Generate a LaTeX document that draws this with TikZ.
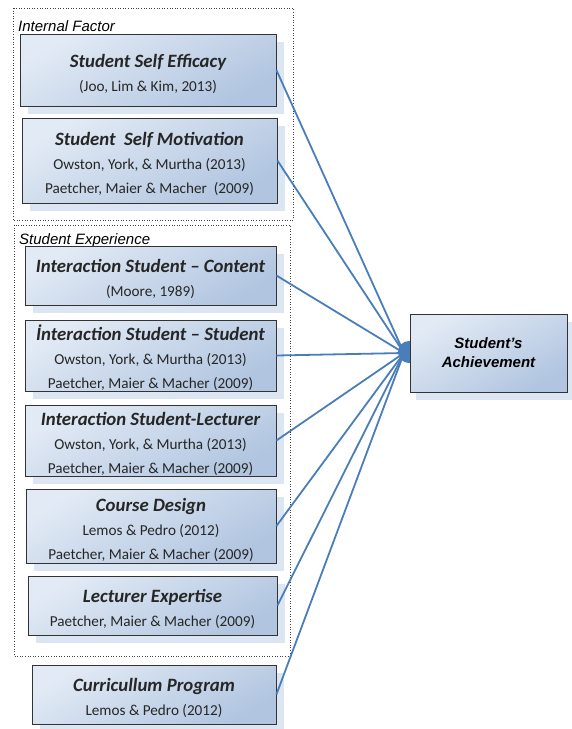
\documentclass[tikz,border=0pt]{standalone}
\usepackage{fontspec}
\setmainfont{Liberation Sans}
\newfontfamily\carlito{Carlito}
\usetikzlibrary{shadows}
\definecolor{lineblue}{HTML}{4A7EBB}
\definecolor{boxtop}{HTML}{E2EAF5}
\definecolor{boxbot}{HTML}{B1C5E0}
\definecolor{shadowblue}{HTML}{DCE6F2}
\definecolor{txt}{HTML}{262626}
\newcommand{\bxtitle}{\fontsize{18.8}{24}\selectfont\bfseries\itshape\rule{0pt}{20.5pt}}
\newcommand{\bxref}{\fontsize{15.2}{24}\selectfont\mdseries\upshape}
\begin{document}
\begin{tikzpicture}[x=1pt,y=-1pt,
  factor/.style={draw=black!80, line width=0.8pt, top color=boxtop, bottom color=boxbot,
    shading angle=30, align=center, inner sep=0pt, text=txt,
    font=\carlito\fontsize{15.2}{24}\selectfont,
    drop shadow={shadow xshift=8pt, shadow yshift=-8pt, fill=shadowblue, opacity=1}},
  group/.style={draw=black!75, dotted, line width=0.6pt},
  grouplabel/.style={anchor=base west, font=\fontsize{15}{15}\selectfont\itshape, inner sep=0pt},
  link/.style={draw=lineblue, line width=1.8pt}]
\useasboundingbox (0,0) rectangle (571,729);

% groups
\draw[group] (13,8) rectangle (293,220);
\node[grouplabel] (lint) at (18,31) {Internal Factor};
\draw[group] (14,225) rectangle (290,656);
\node[grouplabel] (lexp) at (19,244) {Student Experience};

% factor boxes
\node[factor, minimum width=256pt, minimum height=72pt] (b1) at (148,70)
  {\bxtitle Student Self Efficacy\\ \bxref (Joo, Lim \& Kim, 2013)};
\node[factor, minimum width=255pt, minimum height=85pt] (b2) at (149.5,160.5)
  {\bxtitle Student\ \ Self Motivation\\ \bxref Owston, York, \& Murtha (2013)\\ \bxref Paetcher, Maier \& Macher\ \ (2009)};
\node[factor, minimum width=251pt, minimum height=59pt] (b3) at (150.5,275.5)
  {\bxtitle Interaction Student – Content\\ \bxref (Moore, 1989)};
\node[factor, minimum width=251pt, minimum height=71pt] (b4) at (150.5,355.5)
  {\bxtitle İnteraction Student – Student\\ \bxref Owston, York, \& Murtha (2013)\\ \bxref Paetcher, Maier \& Macher (2009)};
\node[factor, minimum width=251pt, minimum height=71pt] (b5) at (150.5,440.5)
  {\bxtitle Interaction Student-Lecturer\\ \bxref Owston, York, \& Murtha (2013)\\ \bxref Paetcher, Maier \& Macher (2009)};
\node[factor, minimum width=250pt, minimum height=74pt] (b6) at (151,526)
  {\bxtitle Course Design\\ \bxref Lemos \& Pedro (2012)\\ \bxref Paetcher, Maier \& Macher (2009)};
\node[factor, minimum width=249pt, minimum height=59pt] (b7) at (152.5,605.5)
  {\bxtitle Lecturer Expertise\\ \bxref Paetcher, Maier \& Macher (2009)};
\node[factor, minimum width=244pt, minimum height=59pt] (b8) at (154,694.5)
  {\bxtitle Curricullum Program\\ \bxref Lemos \& Pedro (2012)};

% connectors
\coordinate (hub) at (404,353);
\foreach \b in {b1,b2,b3,b4,b5,b6,b7,b8}
  \draw[link] (\b.east) -- (hub);
\fill[lineblue] (409,352) circle (11pt);

% target
\node[factor, minimum width=157pt, minimum height=78pt, text=black,
  font=\fontsize{15}{19}\selectfont\bfseries\itshape,
  drop shadow={shadow xshift=6pt, shadow yshift=-8pt, fill=shadowblue, opacity=1}]
  (ach) at (488.5,353) {Student’s\\Achievement};
\end{tikzpicture}
\end{document}
